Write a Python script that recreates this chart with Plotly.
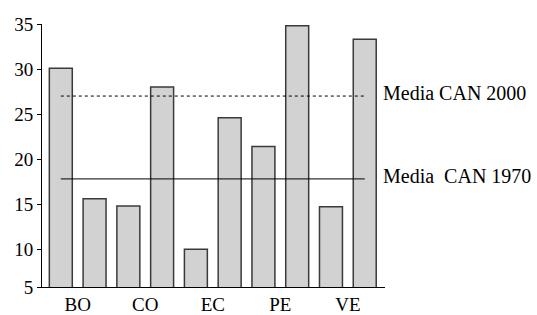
import plotly.graph_objects as go

# ---- data ----
countries = ["BO", "CO", "EC", "PE", "VE"]
values_1970 = [30.1, 14.8, 10.0, 21.4, 14.7]
values_2000 = [15.6, 28.0, 24.6, 34.8, 33.3]
media_1970 = 17.8
media_2000 = 27.0
media_labels = ["Media  CAN 1970", "Media CAN 2000"]
y_tick_labels = ["5", "10", "15", "20", "25", "30", "35"]
y_tick_values = [5.8, 10, 15, 20, 25, 30, 35]

# ---- positions (pairs of bars per country) ----
x_1970 = [2 * i for i in range(len(countries))]
x_2000 = [2 * i + 1 for i in range(len(countries))]
x_centers = [2 * i + 0.5 for i in range(len(countries))]

FONT = "Liberation Serif"
bar_style = dict(color="#d2d2d2", line=dict(color="#3a3a3a", width=1.5))

fig = go.Figure()
fig.add_trace(go.Bar(x=x_1970, y=values_1970, marker=bar_style, width=0.68, name="1970"))
fig.add_trace(go.Bar(x=x_2000, y=values_2000, marker=bar_style, width=0.68, name="2000"))

x_line = [x_1970[0], x_2000[-1]]
fig.add_trace(go.Scatter(x=x_line, y=[media_2000, media_2000], mode="lines",
                         line=dict(color="black", width=1, dash="3px,3px")))
fig.add_trace(go.Scatter(x=x_line, y=[media_1970, media_1970], mode="lines",
                         line=dict(color="black", width=1)))

fig.add_annotation(x=1, xref="paper", xanchor="left", xshift=-4,
                   y=media_2000, yanchor="middle", yshift=3,
                   text=media_labels[1], showarrow=False,
                   font=dict(family=FONT, size=20, color="black"))
fig.add_annotation(x=1, xref="paper", xanchor="left", xshift=-4,
                   y=media_1970, yanchor="middle", yshift=3,
                   text=media_labels[0].replace("  ", "&nbsp; "), showarrow=False,
                   font=dict(family=FONT, size=20, color="black"))

fig.update_layout(
    width=537, height=315,
    margin=dict(l=42, r=152, t=24, b=28),
    paper_bgcolor="white", plot_bgcolor="white",
    showlegend=False, barmode="overlay",
    font=dict(family=FONT, color="black"),
)
fig.update_xaxes(
    range=[-0.557, 9.6], tickvals=x_centers, ticktext=countries,
    showline=True, linecolor="black", linewidth=1,
    ticks="", showgrid=False, zeroline=False, automargin=False,
    tickfont=dict(family=FONT, size=19), ticklabelstandoff=0,
)
fig.update_yaxes(
    range=[5.8, 35], tickvals=y_tick_values, ticktext=y_tick_labels,
    showline=True, linecolor="black", linewidth=1,
    ticks="outside", ticklen=4, tickcolor="black", tickwidth=1,
    showgrid=False, zeroline=False, automargin=False,
    tickfont=dict(family=FONT, size=19),
)

fig.write_html("out.html", config={"displayModeBar": False},
               post_script="document.body.style.margin='0';document.body.style.overflow='hidden';")
